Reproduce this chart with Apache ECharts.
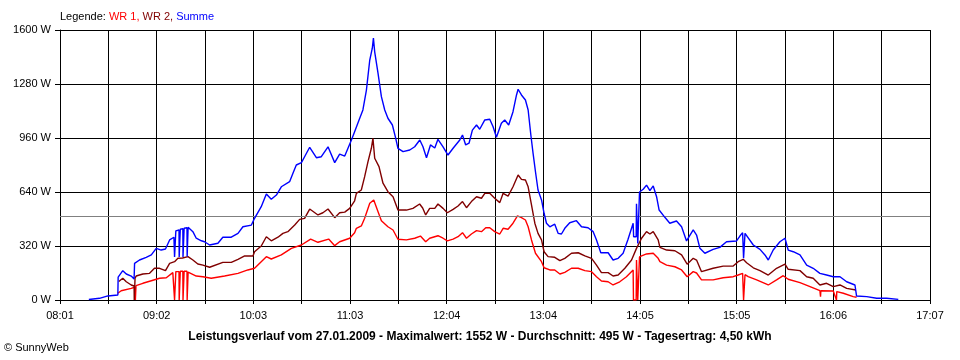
<!DOCTYPE html>
<html><head><meta charset="utf-8">
<script src="https://cdn.jsdelivr.net/npm/echarts@6/dist/echarts.min.js"></script>
<style>html,body{margin:0;padding:0;background:#fff}#c{width:960px;height:360px}</style>
</head><body><div id="c"></div>
<script>
// time in minutes after 08:01, values in W
const timeLabels = ["08:01","09:02","10:03","11:03","12:04","13:04","14:05","15:05","16:06","17:07"];
const yTicks = [0,320,640,960,1280,1600];
const average = 495;

const wr1Times = [36.3,38.4,44.7,47.2,47.3,47.6,47.7,52.0,57.3,62.5,66.7,70.8,71.8,71.9,72.6,72.7,74.7,74.8,75.4,75.5,77.1,77.2,77.8,77.9,79.7,79.8,80.3,80.4,81.3,85.5,89.7,94.9,103.3,111.7,117.9,122.1,129.5,132.6,138.9,145.2,151.5,157.3,161.9,168.6,172.4,175.5,181.8,184.9,186.0,189.1,191.2,194.4,196.9,199.6,201.7,205.8,209.0,212.1,217.4,222.6,226.2,229.5,232.0,237.2,240.4,243.1,246.7,249.8,252.6,255.1,258.2,261.4,264.5,267.2,269.7,272.8,276.0,278.1,281.2,284.3,287.1,289.6,292.1,293.8,295.9,298.4,302.2,303.8,307.4,310.5,313.7,316.8,321.0,325.2,329.4,333.6,336.7,339.8,344.0,347.1,351.3,355.5,359.7,359.9,361.6,361.8,362.4,362.6,363.4,363.7,365.0,368.1,372.3,375.4,376.5,380.7,385.9,390.1,393.6,397.4,399.5,402.6,409.9,416.2,422.5,425.6,428.4,428.9,429.0,429.8,429.9,431.9,437.2,444.5,449.7,453.9,457.0,464.4,470.7,476.9,477.3,477.5,485.3,487.3,487.5,491.6,497.8,499.9];
const wr1Values = [40,55,69,77,0,0,85,99,114,129,132,162,165,0,0,168,168,0,0,170,170,0,0,170,170,0,0,165,162,142,138,129,142,158,178,188,257,243,267,306,326,361,342,361,322,345,366,399,425,439,484,573,593,523,470,434,415,360,356,366,379,345,366,381,366,350,361,375,399,366,391,411,405,428,428,405,391,425,419,455,498,488,474,434,356,277,227,191,178,178,154,164,188,188,174,168,138,113,108,89,108,138,178,0,0,237,237,0,0,255,261,273,277,247,227,207,197,178,138,168,160,119,119,132,138,148,158,158,0,0,150,138,119,89,119,144,123,103,79,55,20,55,53,0,50,40,20,16];

const wr2Times = [36.9,37.4,39.4,41.6,44.7,46.5,46.6,47.0,47.1,47.8,52.0,56.2,59.3,62.5,66.2,68.8,71.9,74.0,76.9,80.3,83.4,86.5,89.7,93.9,94.9,102.2,107.5,111.7,115.9,121.1,122.1,126.3,129.5,132.6,136.8,139.9,143.0,147.3,150.4,153.5,156.7,161.9,165.0,168.2,172.4,175.5,178.7,181.8,184.9,186.0,189.1,191.2,193.3,195.4,196.4,197.5,200.2,202.7,205.8,209.0,212.1,217.4,221.5,225.7,227.6,229.5,232.0,235.2,237.2,240.4,243.1,246.7,249.8,252.6,255.1,258.2,261.4,264.5,266.6,269.7,272.8,276.0,278.1,281.2,284.3,287.5,289.6,292.1,293.8,295.9,298.0,300.0,302.2,303.8,306.3,310.5,313.7,316.8,321.0,325.2,329.4,333.6,336.7,339.8,344.0,347.1,350.3,354.5,358.7,361.8,365.0,368.1,370.2,372.3,375.4,376.5,380.7,385.9,390.1,393.6,397.4,399.5,402.6,409.9,416.2,422.5,425.6,428.8,430.9,435.1,439.3,444.5,449.7,455.0,457.0,464.4,468.6,472.7,476.9,481.1,485.3,489.5,493.7,499.5];
const wr2Values = [110,108,129,108,89,83,0,0,130,142,154,158,188,188,174,217,227,247,249,257,237,213,207,194,194,223,223,241,261,261,286,320,375,351,372,395,405,444,478,484,539,504,517,539,488,517,521,543,588,632,652,731,820,899,958,840,790,692,642,612,533,533,543,569,545,504,543,543,569,543,517,537,557,583,547,583,612,603,632,632,603,577,632,616,671,741,715,711,671,563,455,395,356,286,257,253,233,247,277,280,261,247,207,162,162,142,148,188,237,306,366,405,391,405,356,312,296,292,267,212,247,237,168,188,201,201,227,241,221,191,174,148,188,213,182,174,138,129,89,99,79,89,69,59];

const sumTimes = [18.1,24.8,30.0,36.3,36.5,39.4,41.6,44.7,46.5,46.8,49.9,54.1,57.3,60.4,63.5,66.2,68.8,71.5,71.8,71.9,72.6,72.7,74.7,74.8,75.4,75.5,77.1,77.2,77.8,77.9,79.7,79.8,80.3,80.4,83.4,85.5,88.7,90.7,93.9,94.9,99.1,102.2,107.5,111.7,114.8,120.1,122.1,126.3,129.5,132.6,135.8,138.9,144.1,146.2,148.3,151.5,153.5,156.7,160.9,164.0,168.2,172.4,175.5,178.7,182.9,184.9,188.1,190.1,192.3,194.4,196.0,196.7,197.5,199.6,201.7,203.8,205.8,208.6,210.7,212.1,215.3,219.5,222.6,225.8,227.8,230.0,232.5,235.2,237.2,240.4,243.5,246.7,250.9,252.6,254.6,256.7,258.8,261.4,263.4,266.6,269.7,271.8,273.9,277.0,279.1,281.6,284.3,286.5,287.5,289.6,292.1,293.8,295.5,296.9,298.4,300.0,302.2,303.8,305.3,307.4,310.5,312.6,314.7,316.8,319.9,324.1,327.3,331.4,334.6,336.7,339.4,344.0,347.1,350.3,353.4,356.5,359.7,360.0,361.6,361.8,362.4,362.6,363.4,363.7,366.0,368.1,370.2,372.3,374.4,376.0,379.6,382.7,386.9,390.1,393.2,397.4,399.5,401.6,404.7,409.9,414.1,418.3,424.6,426.7,428.4,428.9,429.0,429.8,429.9,430.9,435.1,439.3,442.4,444.5,447.6,451.8,455.0,457.0,460.2,464.4,468.6,472.7,476.9,481.1,485.3,489.5,493.7,498.9,499.8,499.9,506.3,512.5,518.8,526.1];
const sumValues = [3,10,24,30,136,174,154,142,124,217,237,253,267,306,296,302,356,372,372,255,255,410,415,255,255,420,422,255,255,425,428,258,258,431,405,366,351,345,326,320,336,372,372,395,434,444,484,553,628,597,622,671,701,751,800,814,849,905,843,849,908,814,865,853,948,997,1077,1126,1244,1422,1492,1552,1471,1343,1205,1126,1077,1037,958,899,879,889,908,948,908,843,919,901,952,908,859,899,948,978,919,929,1007,1037,1012,1067,1071,1027,964,1047,1067,1037,1116,1215,1249,1215,1185,1126,978,869,760,652,593,514,455,434,449,395,391,425,458,470,434,428,405,356,280,280,237,247,277,360,455,375,375,570,570,335,335,640,656,681,648,676,612,533,490,455,468,434,350,415,385,306,277,300,312,345,350,379,399,399,247,247,395,395,326,300,267,237,296,345,366,296,286,267,207,188,158,148,138,138,108,89,89,24,20,10,10,4];

const pair = (ts, vs) => ts.map((t, i) => [t, vs[i]]);
const SPAN = 546, STEP = SPAN / 18;
const FONT = '"Liberation Sans", Arial, sans-serif';

const chart = echarts.init(document.getElementById('c'), null, {renderer: 'canvas'});
const lineSeries = (name, color, ts, vs, z) => ({
  name, type: 'line', data: pair(ts, vs), showSymbol: false, symbol: 'none',
  lineStyle: {color, width: 1.4}, itemStyle: {color}, z, animation: false, silent: true
});
chart.setOption({
  animation: false,
  backgroundColor: '#ffffff',
  grid: {left: 60, right: 30, top: 30, bottom: 60, show: false},
  xAxis: {
    type: 'value', min: 0, max: SPAN, interval: STEP,
    axisLine: {show: true, lineStyle: {color: '#000', width: 1}},
    axisTick: {show: true, length: 4, lineStyle: {color: '#000'}},
    splitLine: {show: true, lineStyle: {color: '#000', width: 1}},
    axisLabel: {
      color: '#000', fontSize: 11, fontFamily: FONT, margin: 10, showMaxLabel: true, showMinLabel: true,
      formatter: v => { const i = Math.round(v / STEP); return i % 2 === 0 ? (timeLabels[i / 2] || '') : ''; }
    }
  },
  yAxis: {
    type: 'value', min: yTicks[0], max: yTicks[yTicks.length - 1], interval: yTicks[1] - yTicks[0],
    axisLine: {show: true, lineStyle: {color: '#000', width: 1}},
    axisTick: {show: true, length: 5, lineStyle: {color: '#000'}},
    splitLine: {show: true, lineStyle: {color: '#000', width: 1}},
    axisLabel: {color: '#000', fontSize: 11, fontFamily: FONT, margin: 9, formatter: v => v + ' W'}
  },
  series: [
    Object.assign(lineSeries('WR 1', '#ff0000', wr1Times, wr1Values, 3), {
      markLine: {silent: true, symbol: 'none', label: {show: false},
        lineStyle: {color: '#808080', width: 1, type: 'solid'}, data: [{yAxis: average}], animation: false}
    }),
    lineSeries('WR 2', '#800000', wr2Times, wr2Values, 4),
    lineSeries('Summe', '#0000ff', sumTimes, sumValues, 5)
  ],
  graphic: [
    {type: 'text', left: 60, top: 11, style: {
      text: '{k|Legende: }{a|WR 1, }{b|WR 2, }{c|Summe}',
      rich: {
        k: {fill: '#000', fontSize: 11, fontFamily: FONT},
        a: {fill: '#ff0000', fontSize: 11, fontFamily: FONT},
        b: {fill: '#800000', fontSize: 11, fontFamily: FONT},
        c: {fill: '#0000ff', fontSize: 11, fontFamily: FONT}
      }}},
    {type: 'text', left: 'center', top: 331, style: {
      text: 'Leistungsverlauf vom 27.01.2009 - Maximalwert: 1552 W - Durchschnitt: 495 W - Tagesertrag: 4,50 kWh',
      fill: '#000', fontSize: 12, fontWeight: 'bold', fontFamily: FONT}},
    {type: 'text', left: 4, top: 342, style: {text: '© SunnyWeb', fill: '#000', fontSize: 11, fontFamily: FONT}}
  ]
});
</script></body></html>
